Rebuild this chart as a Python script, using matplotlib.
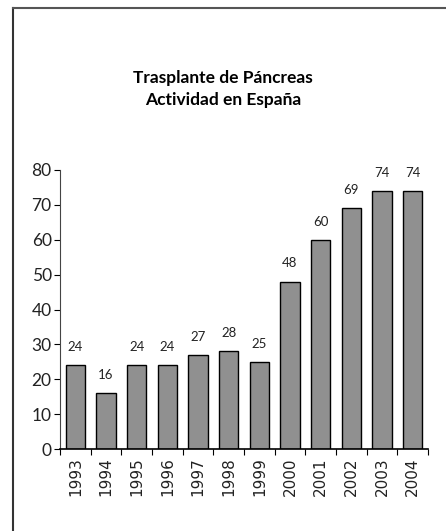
import matplotlib.pyplot as plt
from matplotlib.lines import Line2D

years = ["1993", "1994", "1995", "1996", "1997", "1998",
         "1999", "2000", "2001", "2002", "2003", "2004"]
trasplantes = [24, 16, 24, 24, 27, 28, 25, 48, 60, 69, 74, 74]

fig = plt.figure(figsize=(4.46, 5.31), dpi=100)
ax = fig.add_axes([60 / 446, 1 - 449 / 531, 368 / 446, 279 / 531])

x = list(range(len(years)))
ax.bar(x, trasplantes, width=0.63, color="#909090", edgecolor="black", linewidth=1.0)

for xi, v in zip(x, trasplantes):
    ax.text(xi, v + 3.5, str(v), ha="center", va="bottom", fontsize=9.5,
            family="Lato", color="#222222")

ax.set_xlim(-0.5, len(years) - 0.5)
ax.set_ylim(0, 80)
ax.set_yticks(range(0, 81, 10))
ax.set_yticklabels([str(v) for v in range(0, 81, 10)], fontsize=12.5, family="Lato",
                   color="#222222")
ax.set_xticks([i - 0.5 for i in range(len(years) + 1)])
ax.set_xticklabels([])
ax.set_xticks(x, minor=True)
ax.set_xticklabels(years, minor=True, rotation=90, fontsize=11, family="DejaVu Sans",
                   color="#222222")
ax.tick_params(axis="x", which="major", direction="out", length=4, width=0.8)
ax.tick_params(axis="x", which="minor", length=0, pad=6)
ax.tick_params(axis="y", direction="out", length=4, width=0.8, pad=2)

for side in ["top", "right"]:
    ax.spines[side].set_visible(False)
ax.spines["left"].set_color("#444444")
ax.spines["bottom"].set_linewidth(1.2)

fig.text(223 / 446, 1 - 78 / 531, "Trasplante de Páncreas", ha="center", va="center",
         fontsize=12.5, fontweight="bold", family="Lato")
fig.text(223 / 446, 1 - 100 / 531, "Actividad en España", ha="center", va="center",
         fontsize=12.5, fontweight="bold", family="Lato")

# partial frame around the figure
fig.add_artist(Line2D([12.5 / 446, 12.5 / 446], [0, 1 - 7.5 / 531], color="#333333", lw=1.5))
fig.add_artist(Line2D([12.5 / 446, 1], [1 - 7.5 / 531, 1 - 7.5 / 531], color="#555555", lw=1.5))

fig.savefig("out.png", dpi=100)
